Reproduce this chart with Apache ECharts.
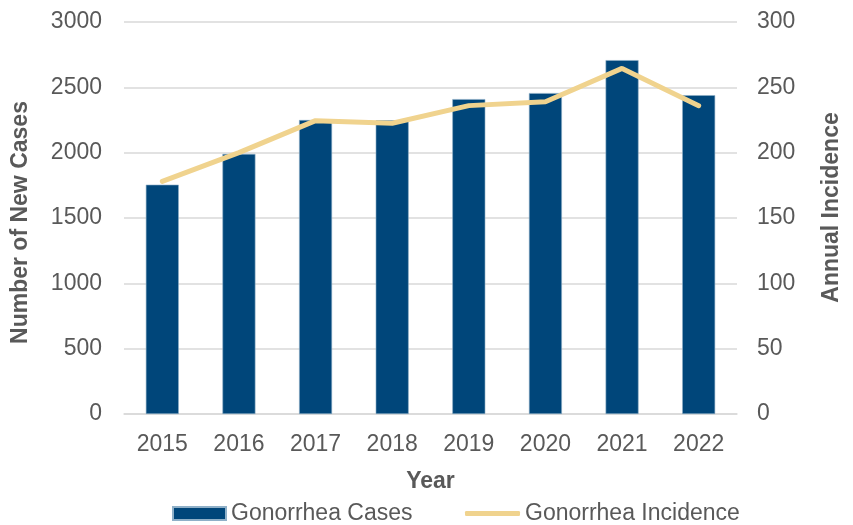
<!DOCTYPE html>
<html>
<head>
<meta charset="utf-8">
<script src="https://cdn.jsdelivr.net/npm/echarts@6/dist/echarts.min.js"></script>
<style>
  html, body { margin: 0; padding: 0; background: #fff; }
  #chart { width: 853px; height: 525px; }
</style>
</head>
<body>
<div id="chart"></div>
<script>
  const years = ['2015', '2016', '2017', '2018', '2019', '2020', '2021', '2022'];
  const cases = [1755, 1990, 2250, 2248, 2410, 2456, 2708, 2440];
  const incidence = [178, 200, 224.5, 222.5, 236, 239, 264.5, 236];

  const font = 'Liberation Sans, Arial, sans-serif';
  const grey = '#595959';
  const fs = 23;

  const chart = echarts.init(document.getElementById('chart'));
  chart.setOption({
    animation: false,
    textStyle: { fontFamily: font },
    grid: { left: 124, right: 116, top: 22, bottom: 111, containLabel: false },
    legend: [
      {
        top: 502,
        left: 172,
        padding: 0,
        itemWidth: 53,
        itemHeight: 13,
        textStyle: { fontSize: fs, color: grey, fontFamily: font },
        data: [{ name: 'Gonorrhea Cases', icon: 'rect' }]
      },
      {
        top: 502,
        left: 465,
        padding: 0,
        itemWidth: 55,
        itemHeight: 5,
        textStyle: { fontSize: fs, color: grey, fontFamily: font },
        data: [{ name: 'Gonorrhea Incidence', icon: 'roundRect' }]
      }
    ],
    xAxis: {
      type: 'category',
      data: years,
      name: 'Year',
      nameLocation: 'middle',
      nameGap: 56,
      nameTextStyle: { fontSize: fs, fontWeight: 'bold', color: grey, fontFamily: font },
      axisLine: { lineStyle: { color: '#d9d9d9', width: 1.5 } },
      axisTick: { show: false },
      axisLabel: { fontSize: fs, color: grey, margin: 19 }
    },
    yAxis: [
      {
        type: 'value',
        min: 0, max: 3000, interval: 500,
        name: 'Number of New Cases',
        nameLocation: 'middle',
        nameGap: 92,
        nameTextStyle: { fontSize: fs, fontWeight: 'bold', color: grey, fontFamily: font, padding: [0, 9, 0, 0] },
        axisLabel: { fontSize: fs, color: grey, margin: 22, formatter: v => String(v) },
        splitLine: { lineStyle: { color: '#d9d9d9', width: 1.5 } }
      },
      {
        type: 'value',
        min: 0, max: 300, interval: 50,
        name: 'Annual Incidence',
        nameLocation: 'middle',
        nameGap: 83,
        nameRotate: 90,
        nameTextStyle: { fontSize: fs, fontWeight: 'bold', color: grey, fontFamily: font, padding: [0, 0, 0, 21] },
        axisLabel: { fontSize: fs, color: grey, margin: 20, formatter: v => String(v) },
        splitLine: { show: false }
      }
    ],
    series: [
      {
        name: 'Gonorrhea Cases',
        type: 'bar',
        data: cases,
        barWidth: 33,
        itemStyle: { color: '#00467a', borderColor: '#8fb0c8', borderWidth: 0.6 }
      },
      {
        name: 'Gonorrhea Incidence',
        type: 'line',
        yAxisIndex: 1,
        data: incidence,
        symbol: 'none',
        lineStyle: { color: '#f0d38e', width: 5, cap: 'round' },
        itemStyle: { color: '#f0d38e' }
      }
    ]
  });
</script>
</body>
</html>
